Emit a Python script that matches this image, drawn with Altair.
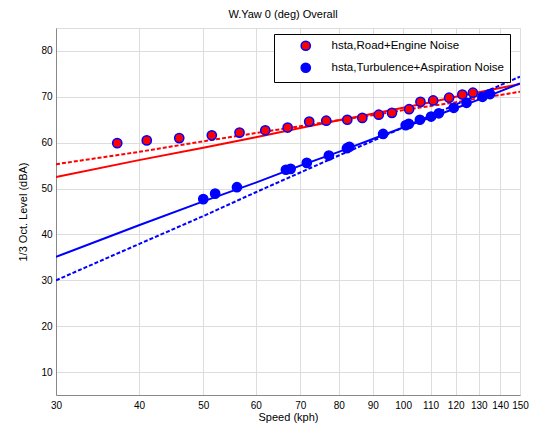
import altair as alt
import pandas as pd

# ---- data ----
red_speed = [37.1, 41.1, 46.0, 51.5, 56.7, 62.0, 67.0, 72.2, 76.6, 82.4, 86.8, 91.9, 96.2, 102.1, 106.2, 111.0, 117.3, 122.8, 127.4]
red_level = [59.9, 60.5, 61.0, 61.6, 62.2, 62.7, 63.3, 64.6, 64.8, 65.0, 65.4, 66.1, 66.5, 67.3, 68.9, 69.2, 69.8, 70.5, 70.9]

blue_speed = [50.0, 52.1, 56.2, 66.6, 67.7, 71.6, 77.3, 82.3, 83.0, 93.3, 100.9, 102.0, 106.0, 110.2, 113.2, 119.2, 124.6, 131.7, 135.2]
blue_level = [47.7, 48.9, 50.3, 54.1, 54.3, 55.6, 57.2, 58.8, 59.1, 61.9, 63.8, 64.1, 65.0, 65.7, 66.4, 67.6, 68.7, 70.0, 70.6]

line_speed = [30, 40, 50, 60, 70, 80, 90, 100, 110, 120, 130, 140, 150]
red_solid = [52.5, 56.2, 58.9, 61.2, 63.2, 64.9, 66.3, 67.6, 68.8, 70.0, 71.0, 71.9, 72.8]
red_dashed = [55.3, 58.0, 60.3, 62.1, 63.6, 64.9, 66.0, 67.1, 68.0, 68.8, 69.7, 70.4, 71.1]
blue_solid = [35.1, 42.0, 47.2, 51.3, 55.0, 58.0, 60.8, 63.3, 65.5, 67.5, 69.4, 71.2, 72.9]
blue_dashed = [30.0, 37.9, 44.0, 49.2, 53.5, 57.2, 60.4, 63.3, 65.9, 68.3, 70.5, 72.5, 74.4]

x_ticks = [30, 40, 50, 60, 70, 80, 90, 100, 110, 120, 130, 140, 150]
y_ticks = [10, 20, 30, 40, 50, 60, 70, 80]

labels = ["hsta,Road+Engine Noise", "hsta,Turbulence+Aspiration Noise"]

pts = pd.DataFrame({
    "speed": red_speed + blue_speed,
    "level": red_level + blue_level,
    "series": [labels[0]] * len(red_speed) + [labels[1]] * len(blue_speed),
})

FONT = "Liberation Sans"

xscale = alt.Scale(type="log", domain=[30, 150], nice=False)
yscale = alt.Scale(domain=[5, 85], nice=False, zero=False)

xaxis = alt.Axis(values=x_ticks, format="d", title="Speed (kph)", grid=True, ticks=False,
                 labelPadding=5, titlePadding=1, labelFlush=False, labelOverlap=False,
                 titleFontWeight="normal", titleFontSize=11, titleFont=FONT)
yaxis = alt.Axis(values=y_ticks, title="1/3 Oct. Level (dBA)", grid=True, ticks=False,
                 labelPadding=4, titlePadding=12,
                 titleFontWeight="normal", titleFontSize=11, titleFont=FONT)


def line_layer(vals, color, dash=None):
    df = pd.DataFrame({"speed": line_speed, "level": vals})
    kw = dict(color=color, strokeWidth=2, clip=True)
    if dash:
        kw["strokeDash"] = dash
    return alt.Chart(df).mark_line(**kw).encode(
        x=alt.X("speed:Q", scale=xscale, axis=xaxis),
        y=alt.Y("level:Q", scale=yscale, axis=yaxis),
    )


def legend():
    return alt.Legend(title=None, orient="none", legendX=218, legendY=6,
                      strokeColor="black", fillColor="white", padding=6,
                      symbolOffset=20, labelOffset=20, rowPadding=6,
                      symbolSize=85, symbolType="circle", labelFontSize=11.5,
                      labelFont=FONT, labelColor="black", labelLimit=400)


points = alt.Chart(pts).mark_point(filled=True, size=85, strokeWidth=1.5, opacity=1).encode(
    x=alt.X("speed:Q", scale=xscale, axis=xaxis),
    y=alt.Y("level:Q", scale=yscale, axis=yaxis),
    fill=alt.Fill("series:N", scale=alt.Scale(domain=labels, range=["#ff0000", "#0000ff"]),
                  legend=legend()),
    stroke=alt.Stroke("series:N", scale=alt.Scale(domain=labels, range=["#0000ff", "#0000ff"]),
                      legend=legend()),
)

chart = alt.layer(
    line_layer(red_solid, "#ff0000"),
    line_layer(red_dashed, "#ff0000", [4, 2]),
    line_layer(blue_solid, "#0000ff"),
    line_layer(blue_dashed, "#0000ff", [4, 2]),
    points,
).properties(
    width=464, height=367,
    title=alt.TitleParams("W.Yaw  0 (deg) Overall", fontSize=11, fontWeight="normal",
                          font=FONT, color="black", offset=8, dx=-5),
    autosize=alt.AutoSizeParams(type="none"),
    padding={"left": 48, "top": 20, "right": 9, "bottom": 28},
).configure_view(
    stroke="black", strokeWidth=1, fill="white"
).configure_axis(
    gridColor="#3c3c3c", gridOpacity=1, gridWidth=1,
    domainColor="black", domainWidth=1,
    labelFont=FONT, labelFontSize=11, labelColor="black",
    titleFont=FONT, titleFontSize=11, titleFontWeight="normal", titleColor="black",
).configure(background="white")

chart.save("out.html", embed_options={"renderer": "svg", "actions": False})
